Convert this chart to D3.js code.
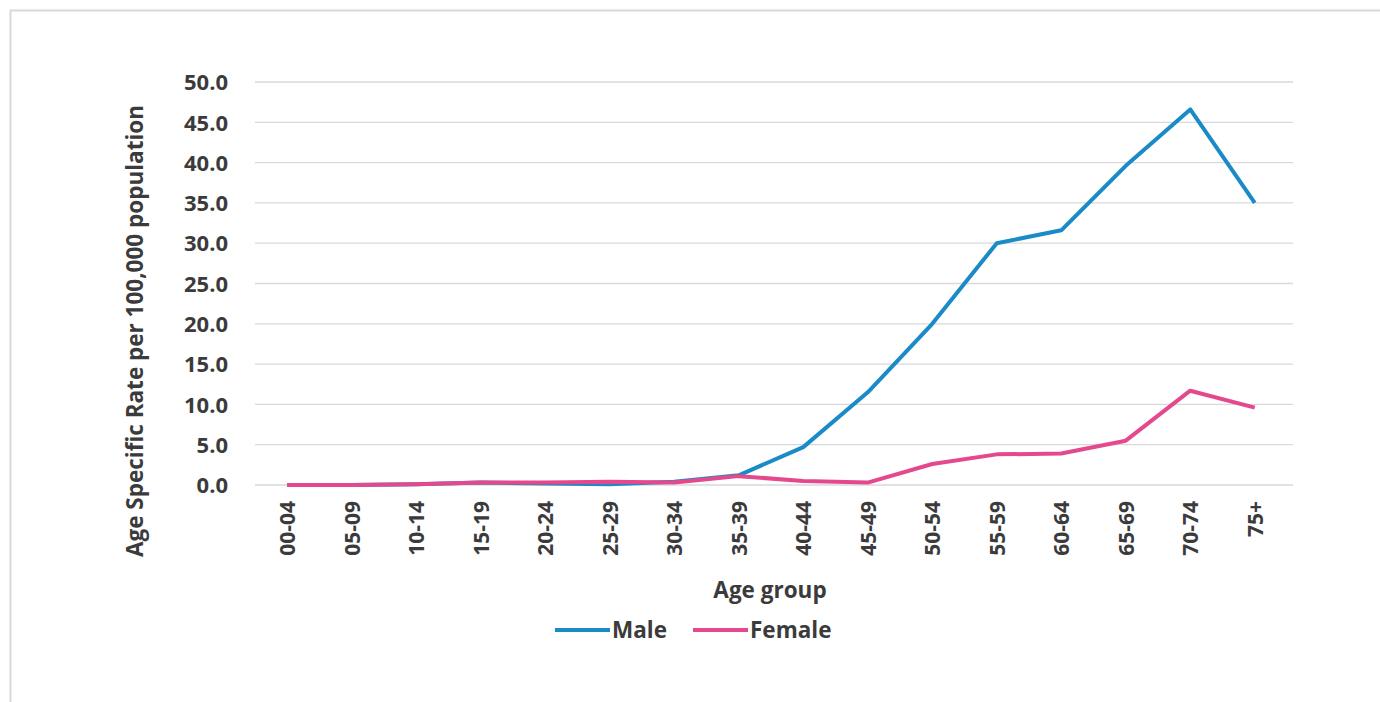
<!DOCTYPE html>
<html><head><meta charset="utf-8">
<script src="https://cdn.jsdelivr.net/npm/d3@7"></script>
<style>html,body{margin:0;background:#fff;overflow:hidden}svg{display:block}text{font-family:"Open Sans","Noto Sans",sans-serif;font-weight:700;fill:#3b3b3b}</style>
</head><body><svg id="c" width="1380" height="702"></svg>
<script>
const categories = ["00-04","05-09","10-14","15-19","20-24","25-29","30-34","35-39","40-44","45-49","50-54","55-59","60-64","65-69","70-74","75+"];
const maleValues = [0.0,0.0,0.1,0.3,0.2,0.1,0.4,1.2,4.7,11.5,20.0,30.0,31.6,39.6,46.6,35.0];
const femaleValues = [0.0,0.0,0.1,0.3,0.3,0.4,0.3,1.1,0.5,0.3,2.6,3.8,3.9,5.5,11.7,9.6];
const yTicks = [0,5,10,15,20,25,30,35,40,45,50];
const seriesNames = ["Male","Female"];
const colors = ["#1b8bc8","#e5498d"];

const svg = d3.select("#c");
svg.append("rect").attr("x",10.5).attr("y",10.5).attr("width",1380).attr("height",700)
  .attr("fill","none").attr("stroke","#d9d9d9").attr("stroke-width",2);

const pLeft=255, pRight=1287, pTop=82, pBottom=485;
const x = d3.scalePoint().domain(categories).range([pLeft,pRight]).padding(0.5);
const y = d3.scaleLinear().domain([0,50]).range([pBottom,pTop]);

// gridlines
svg.append("g").selectAll("line").data(yTicks).join("line")
  .attr("x1",pLeft).attr("x2",pRight+6).attr("y1",d=>y(d)).attr("y2",d=>y(d))
  .attr("stroke","#d9d9d9").attr("stroke-width",1.3);

// y axis
const yAxis = svg.append("g").attr("transform",`translate(${pLeft},0)`)
  .call(d3.axisLeft(y).tickValues(yTicks).tickFormat(d3.format(".1f")).tickSize(0).tickPadding(27));
yAxis.select(".domain").remove();
yAxis.selectAll("text").attr("font-size",22).style("font-family",'"Open Sans",sans-serif').style("font-weight",700).attr("fill","#3b3b3b").attr("dy","0.35em");

// x axis
const xAxis = svg.append("g").attr("transform",`translate(0,${pBottom})`)
  .call(d3.axisBottom(x).tickSize(0).tickPadding(0));
xAxis.select(".domain").remove();
xAxis.selectAll("text").attr("font-size",21).style("font-family",'"Open Sans",sans-serif').style("font-weight",700).attr("fill","#3b3b3b")
  .attr("transform","rotate(-90)").attr("text-anchor","end").attr("x",-16).attr("y",0).attr("dy","0.35em");

// axis titles
svg.append("text").attr("x",770).attr("y",598).attr("text-anchor","middle").attr("font-size",22.5).text("Age group");
svg.append("text").attr("transform","translate(143,331) rotate(-90)").attr("text-anchor","middle").attr("font-size",22.5).text("Age Specific Rate per 100,000 population");

// lines
const line = d3.line().x((d,i)=>x(categories[i])).y(d=>y(d));
svg.append("path").datum(maleValues).attr("d",line).attr("fill","none").attr("stroke",colors[0]).attr("stroke-width",4).attr("stroke-linejoin","round");
svg.append("path").datum(femaleValues).attr("d",line).attr("fill","none").attr("stroke",colors[1]).attr("stroke-width",4).attr("stroke-linejoin","round");

// legend
const legX=[555,693];
const lg = svg.append("g");
seriesNames.forEach((n,i)=>{
  lg.append("line").attr("x1",legX[i]).attr("x2",legX[i]+55).attr("y1",630).attr("y2",630).attr("stroke",colors[i]).attr("stroke-width",4);
  lg.append("text").attr("x",legX[i]+57).attr("y",630).attr("dy","0.35em").attr("font-size",22.5).text(n);
});
</script></body></html>
